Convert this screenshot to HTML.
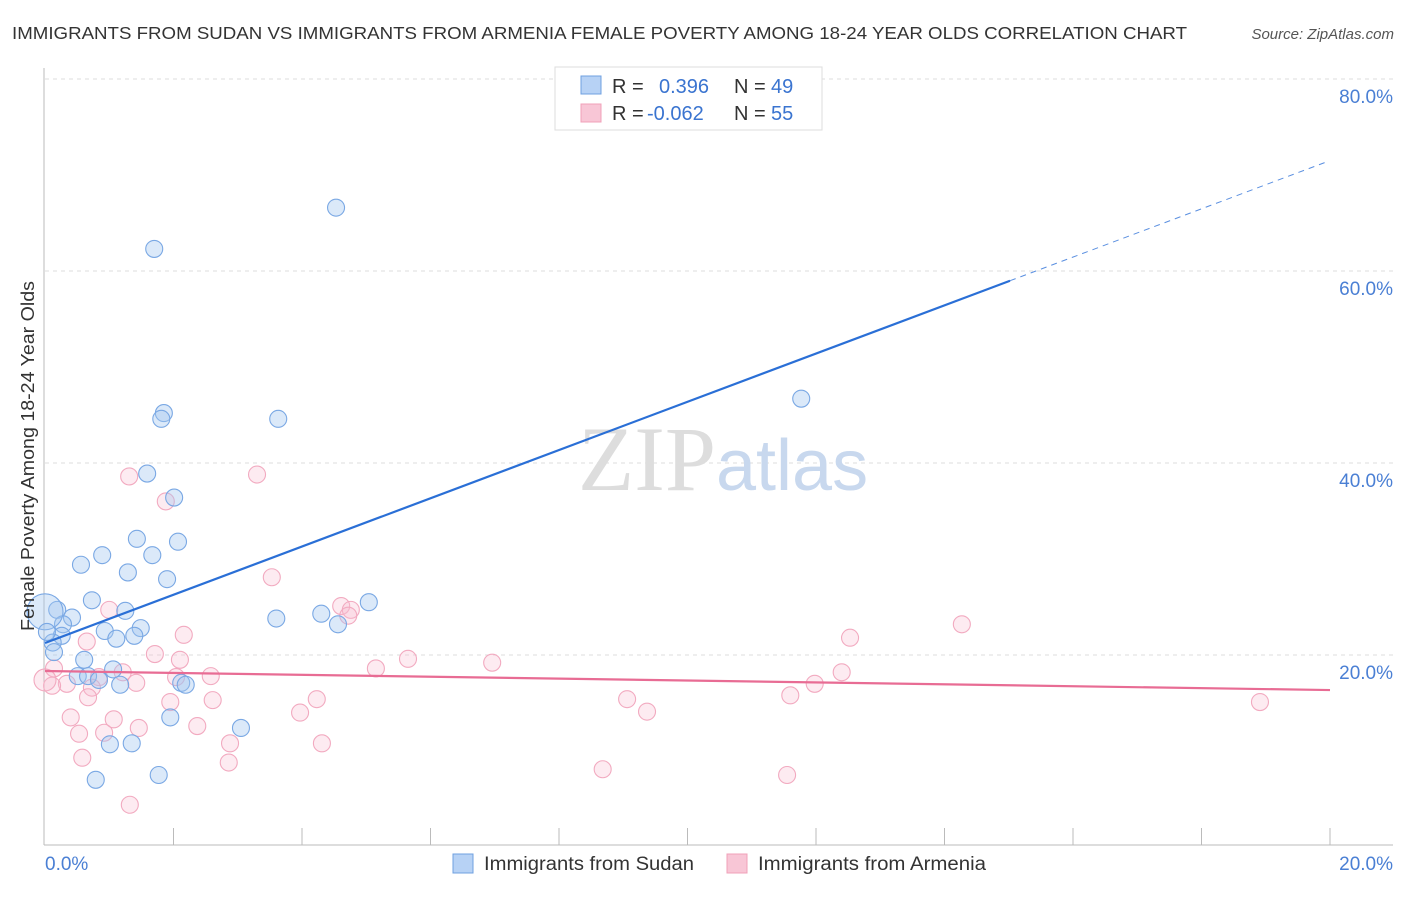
<!DOCTYPE html>
<html><head><meta charset="utf-8"><style>
body{margin:0;background:#fff;font-family:"Liberation Sans",sans-serif}
</style></head><body>
<svg width="1406" height="892" viewBox="0 0 1406 892" xmlns="http://www.w3.org/2000/svg" font-family="Liberation Sans, sans-serif">
<text x="12" y="39" font-size="17.5" fill="#333" textLength="1175" lengthAdjust="spacingAndGlyphs">IMMIGRANTS FROM SUDAN VS IMMIGRANTS FROM ARMENIA FEMALE POVERTY AMONG 18-24 YEAR OLDS CORRELATION CHART</text>
<text x="1394" y="39" font-size="15" fill="#555" font-style="italic" text-anchor="end">Source: ZipAtlas.com</text>
<g id="grid"></g>
<text x="716" y="490" font-size="92" font-family="Liberation Serif, serif" fill="#ddd" text-anchor="end">ZIP</text>
<text x="716" y="490" font-size="72" fill="#c8d8ee">atlas</text>
<g id="axes"></g>
<g id="pts"></g>
<g id="trend"></g>
<text transform="translate(34,456) rotate(-90)" font-size="18.5" fill="#333" text-anchor="middle" textLength="350" lengthAdjust="spacingAndGlyphs">Female Poverty Among 18-24 Year Olds</text>
<text x="45" y="870" font-size="19" fill="#4a7fd4">0.0%</text>
<text x="1393" y="870" font-size="19" fill="#4a7fd4" text-anchor="end">20.0%</text>
<g>
<rect x="555" y="67" width="267" height="63" fill="#fff" stroke="#ddd"/>
<rect x="581" y="76" width="20" height="18" fill="#b7d2f5" stroke="#6fa0e0"/>
<rect x="581" y="104" width="20" height="18" fill="#f8c6d6" stroke="#f0a0b8"/>
<text x="612" y="93" font-size="20" fill="#333">R = <tspan fill="#3a74d0" x="659">0.396</tspan><tspan x="734" fill="#333">N = </tspan><tspan fill="#3a74d0" x="771">49</tspan></text>
<text x="612" y="120" font-size="20" fill="#333">R = <tspan fill="#3a74d0" x="647">-0.062</tspan><tspan x="734" fill="#333">N = </tspan><tspan fill="#3a74d0" x="771">55</tspan></text>
</g>
<g>
<rect x="453" y="854" width="20" height="19" fill="#b7d2f5" stroke="#6fa0e0"/>
<text x="484" y="870" font-size="19" fill="#333" textLength="210" lengthAdjust="spacingAndGlyphs">Immigrants from Sudan</text>
<rect x="727" y="854" width="20" height="19" fill="#f8c6d6" stroke="#f0a0b8"/>
<text x="758" y="870" font-size="19" fill="#333" textLength="228" lengthAdjust="spacingAndGlyphs">Immigrants from Armenia</text>
</g>
</svg>
<script>
const yTicks=[20,40,60,80];
const yTickLabels=["20.0%","40.0%","60.0%","80.0%"];
const sudanX=[4.53,1.70,1.85,1.81,3.63,11.77,1.59,2.01,1.43,2.07,0.89,1.67,0.56,1.29,1.90,0.73,1.25,5.04,4.30,0.19,0.42,0.28,3.60,4.56,0.93,1.49,1.39,1.11,0.26,0.12,0.61,0.14,1.06,0.51,0.67,0.84,1.17,2.12,2.19,1.95,3.05,1.01,1.35,1.77,0.79,0.00,0.03];
const sudanY=[66.6,62.3,45.2,44.6,44.6,46.7,38.9,36.4,32.1,31.8,30.4,30.4,29.4,28.6,27.9,25.7,24.6,25.5,24.3,24.7,23.9,23.2,23.8,23.2,22.5,22.8,22.0,21.7,22.0,21.3,19.5,20.3,18.5,17.8,17.8,17.4,16.9,17.1,16.9,13.5,12.4,10.7,10.8,7.5,7.0,24.5,22.4];
const armeniaX=[1.31,3.30,1.88,1.00,3.53,4.61,4.76,4.72,2.16,0.65,14.27,12.53,0.14,1.71,2.10,5.65,6.96,5.15,1.21,2.04,2.58,0.84,0.34,0.11,0.73,1.42,0.67,1.95,2.61,4.23,9.06,11.60,11.98,12.40,18.91,0.40,1.07,2.37,1.46,0.53,0.92,9.37,3.97,2.88,4.31,0.58,2.86,8.68,11.55,1.32,0.00];
const armeniaY=[38.6,38.8,36.0,24.7,28.1,25.1,24.7,24.1,22.1,21.4,23.2,21.8,18.6,20.1,19.5,19.6,19.2,18.6,18.2,17.7,17.8,17.7,17.0,16.8,16.6,17.1,15.6,15.1,15.3,15.4,15.4,15.8,17.0,18.2,15.1,13.5,13.3,12.6,12.4,11.8,11.9,14.1,14.0,10.8,10.8,9.3,8.8,8.1,7.5,4.4,17.4];
const sudanTrend=[21.25,71.5];
const armeniaTrend=[18.33,16.35];
const NS="http://www.w3.org/2000/svg";
const X=v=>45+v*1285/20, Y=v=>847-v*9.6;
function mk(t,a,p){const e=document.createElementNS(NS,t);for(const k in a)e.setAttribute(k,a[k]);p.appendChild(e);return e;}
const grid=document.getElementById('grid'),axes=document.getElementById('axes'),pts=document.getElementById('pts'),tr=document.getElementById('trend');
yTicks.forEach((t,i)=>{
 const l=mk('line',{x1:45,x2:1393,y1:Y(t),y2:Y(t),stroke:'#ddd','stroke-dasharray':'4,4'},grid);
 
 
 const tx=mk('text',{x:1393,y:Y(t)+24,'font-size':19,fill:'#4a7fd4','text-anchor':'end'},grid);
 tx.textContent=yTickLabels[i];
 
 
});
const ya=mk('line',{x1:44,x2:44,y1:68,y2:845,stroke:'#bbb'},axes);


const xa=mk('line',{x1:44,x2:1393,y1:845,y2:845,stroke:'#bbb'},axes);


for(let k=1;k<=10;k++){const t=mk('line',{x1:X(k*2),x2:X(k*2),y1:828,y2:845,stroke:'#bbb'},axes);
 
 }
armeniaX.forEach((x,i)=>{const c=mk('circle',{cx:X(x),cy:Y(armeniaY[i]),r:i==armeniaX.length-1?11:8.5,fill:'rgba(248,190,210,0.3)',stroke:'#f2aac0','stroke-width':1.1},pts);
 
 });
sudanX.forEach((x,i)=>{const c=mk('circle',{cx:X(x),cy:Y(sudanY[i]),r:i==sudanX.length-2?18:8.5,fill:'rgba(160,196,240,0.38)',stroke:'#7aa8e4','stroke-width':1.1},pts);
 
 });
const sy=v=>sudanTrend[0]+(sudanTrend[1]-sudanTrend[0])*v/20;
const b1=mk('line',{x1:X(0),y1:Y(sy(0)),x2:X(15.02),y2:Y(sy(15.02)),stroke:'#2a6fd6','stroke-width':2.2},tr);


const b2=mk('line',{x1:X(15.02),y1:Y(sy(15.02)),x2:X(19.95),y2:Y(sy(19.95)),stroke:'#5a8fe0','stroke-width':1,'stroke-dasharray':'6,5'},tr);


const p1=mk('line',{x1:X(0),y1:Y(armeniaTrend[0]),x2:X(20),y2:Y(armeniaTrend[1]),stroke:'#e86c94','stroke-width':2.2},tr);


</script>
</body></html>
